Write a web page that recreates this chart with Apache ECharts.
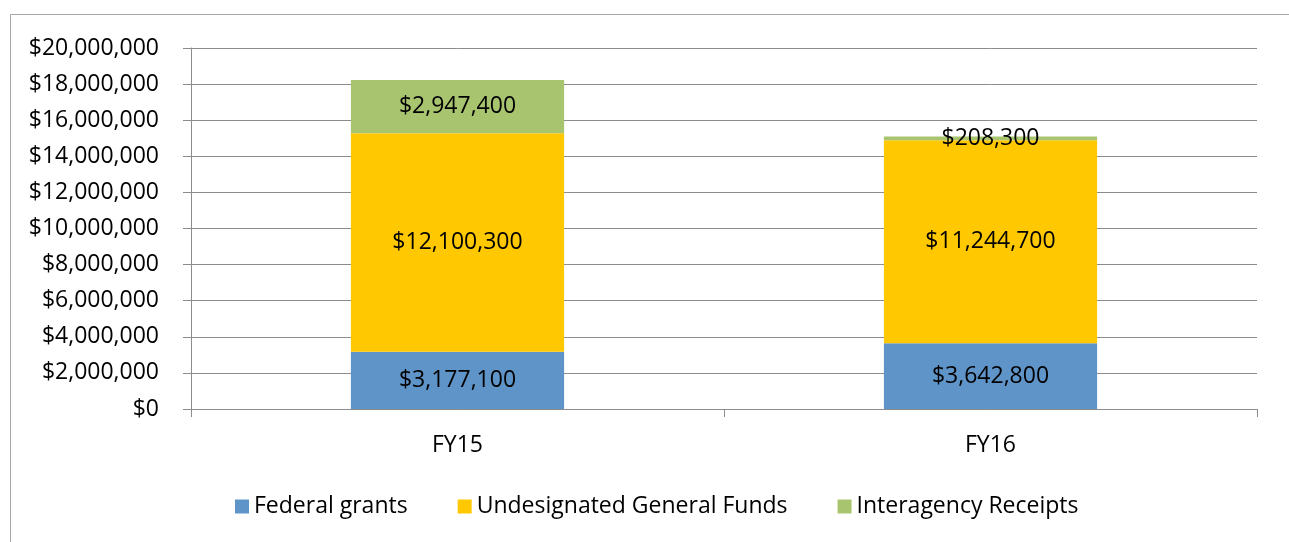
<!DOCTYPE html>
<html lang="en">
  <head>
    <meta charset="utf-8" />
    <script type="text/javascript" src="https://cdn.jsdelivr.net/npm/echarts@6/dist/echarts.min.js"></script>
    <title>Funding by source</title>
    <style>
      html, body { margin: 0; padding: 0; background: #fff; overflow: hidden; }
      #chart { width: 1289px; height: 542px; }
    </style>
  </head>
  <body>
    <div id="chart"></div>
    <script>
      // values
      var years = ['FY15', 'FY16']
      var federalGrants = [3177100, 3642800]
      var generalFunds = [12100300, 11244700]
      var interagency = [2947400, 208300]
      var seriesNames = ['Federal grants', 'Undesignated General Funds', 'Interagency Receipts']
      var colors = ['#5f94c8', '#ffc800', '#a9c46e']

      function money(v) {
        return '$' + Number(v).toLocaleString('en-US')
      }

      var font = '"Open Sans", "DejaVu Sans", sans-serif'
      var gray = '#8c8c8c'

      function barSeries(name, data, color) {
        return {
          name: name,
          type: 'bar',
          stack: 'total',
          barWidth: '40%',
          data: data,
          itemStyle: { color: color },
          label: {
            show: true,
            position: 'inside',
            color: '#000',
            fontFamily: font,
            fontSize: 23,
            formatter: function (p) { return money(p.value) }
          }
        }
      }

      var chart = echarts.init(document.getElementById('chart'))
      chart.setOption({
        animation: false,
        color: colors,
        graphic: [{
          type: 'rect',
          left: 8,
          top: 12,
          shape: { width: 1400, height: 700 },
          style: { fill: 'none', stroke: '#a6a6a6', lineWidth: 1 },
          z: -10
        }],
        grid: { left: 191, right: 32, top: 48, bottom: 133 },
        legend: {
          left: 230,
          top: 490,
          itemWidth: 14,
          itemHeight: 14,
          itemGap: 50,
          icon: 'rect',
          textStyle: { fontFamily: font, fontSize: 23, color: '#000' },
          data: seriesNames
        },
        xAxis: {
          type: 'category',
          data: years,
          axisLine: { lineStyle: { color: gray } },
          axisTick: { show: true, length: 8, lineStyle: { color: gray } },
          axisLabel: { margin: 25, color: '#000', fontFamily: font, fontSize: 23 }
        },
        yAxis: {
          type: 'value',
          min: 0,
          max: 20000000,
          interval: 2000000,
          axisLine: { show: true, lineStyle: { color: gray } },
          axisTick: { show: true, length: 8, lineStyle: { color: gray } },
          splitLine: { lineStyle: { color: gray } },
          axisLabel: {
            margin: 32,
            color: '#000',
            fontFamily: font,
            fontSize: 23,
            formatter: money
          }
        },
        series: [
          barSeries(seriesNames[0], federalGrants, colors[0]),
          barSeries(seriesNames[1], generalFunds, colors[1]),
          barSeries(seriesNames[2], interagency, colors[2])
        ]
      })
    </script>
  </body>
</html>
